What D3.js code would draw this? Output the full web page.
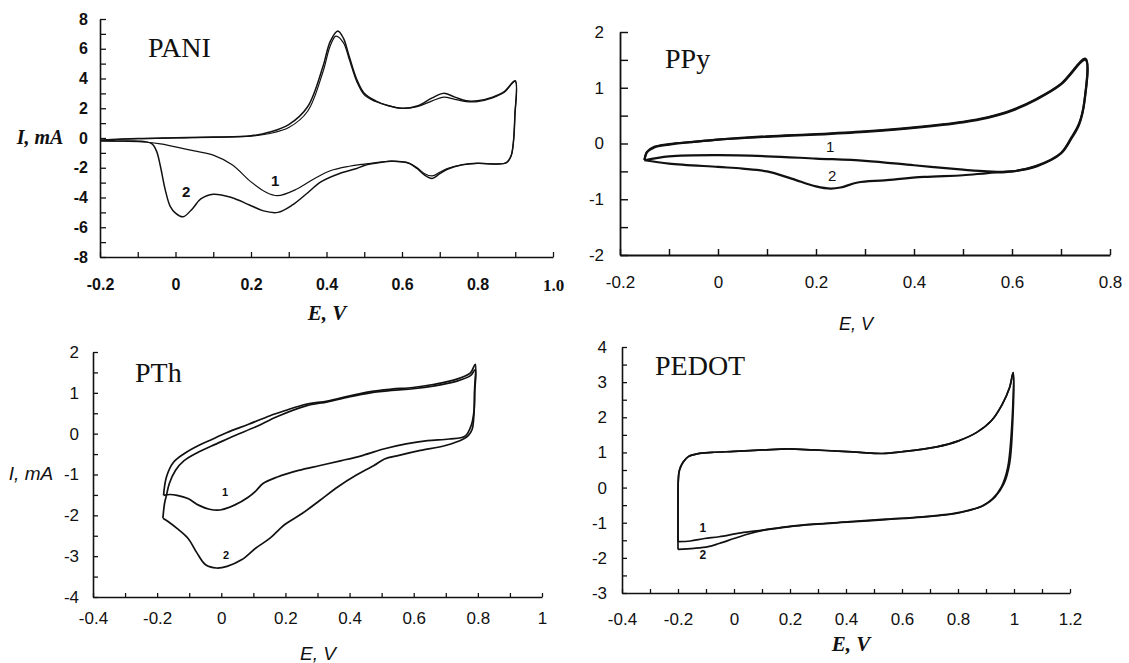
<!DOCTYPE html>
<html>
<head>
<meta charset="utf-8">
<script src="https://cdn.jsdelivr.net/npm/d3@7"></script>
<style>
  body { margin: 0; background: #fff; }
  svg { display: block; }
</style>
</head>
<body>
<svg width="1129" height="663"></svg>
<script>
// ---- data: [E (V), I (mA)], each cycle is a closed loop ----

// PANI
var paniCycle1 = [[-0.2,-0.15],[-0.1,-0.05],[0,0],[0.1,0.04],[0.2,0.12],[0.25,0.3],[0.3,0.7],[0.35,1.8],[0.39,4.4],[0.41,6.2],[0.425,6.85],[0.445,6.4],[0.46,5.3],[0.48,3.8],[0.5,2.9],[0.53,2.45],[0.56,2.2],[0.6,2.0],[0.64,2.1],[0.68,2.5],[0.71,2.75],[0.74,2.6],[0.77,2.45],[0.8,2.45],[0.84,2.7],[0.87,3.05],[0.9,3.8],
  [0.899,1.5],[0.895,-0.3],[0.889,-1.2],[0.877,-1.65],
  [0.85,-1.75],[0.8,-1.7],[0.76,-1.8],[0.72,-2.05],[0.7,-2.3],[0.68,-2.55],[0.66,-2.4],[0.64,-2.0],[0.62,-1.7],[0.6,-1.6],[0.57,-1.55],[0.55,-1.6],[0.5,-1.75],[0.46,-1.9],[0.41,-2.2],[0.37,-2.7],[0.32,-3.45],[0.27,-3.88],[0.24,-3.65],[0.2,-2.95],[0.15,-1.8],[0.1,-1.15],[0.05,-0.87],[0,-0.6],[-0.04,-0.4],[-0.08,-0.27],[-0.14,-0.22],[-0.2,-0.2]];
var paniCycle2 = [[-0.2,-0.15],[-0.1,-0.04],[0,0.01],[0.1,0.06],[0.2,0.15],[0.25,0.4],[0.3,0.9],[0.35,2.1],[0.39,4.75],[0.41,6.5],[0.43,7.2],[0.445,6.7],[0.46,5.5],[0.48,3.95],[0.5,3.0],[0.53,2.5],[0.56,2.2],[0.6,2.0],[0.64,2.15],[0.68,2.7],[0.71,3.0],[0.74,2.75],[0.77,2.5],[0.8,2.5],[0.84,2.75],[0.87,3.1],[0.9,3.85],
  [0.899,1.5],[0.895,-0.3],[0.889,-1.2],[0.877,-1.65],
  [0.85,-1.75],[0.8,-1.7],[0.76,-1.8],[0.72,-2.1],[0.7,-2.4],[0.68,-2.72],[0.66,-2.5],[0.64,-2.05],[0.62,-1.72],[0.6,-1.6],[0.57,-1.57],[0.55,-1.62],[0.5,-1.85],[0.48,-2.05],[0.433,-2.4],[0.385,-2.95],[0.347,-3.75],[0.31,-4.5],[0.271,-5.0],[0.233,-4.9],[0.196,-4.5],[0.148,-4.0],[0.1,-3.78],[0.067,-4.1],[0.045,-4.75],[0.02,-5.3],[0,-5.05],[-0.014,-4.6],[-0.027,-3.5],[-0.04,-1.9],[-0.05,-0.9],[-0.062,-0.4],[-0.08,-0.25],[-0.12,-0.2],[-0.2,-0.18]];

// PPy
var ppyCycle1 = [[-0.15,-0.3],[-0.145,-0.15],[-0.13,-0.06],[-0.1,-0.01],[-0.05,0.03],[0,0.07],[0.1,0.13],[0.2,0.17],[0.3,0.22],[0.4,0.29],[0.5,0.39],[0.55,0.47],[0.6,0.6],[0.65,0.8],[0.7,1.07],[0.75,1.52],
  [0.748,0.78],[0.737,0.36],[0.722,0.12],[0.7,-0.17],[0.65,-0.4],[0.6,-0.5],
  [0.55,-0.5],[0.5,-0.47],[0.4,-0.39],[0.3,-0.31],[0.2,-0.27],[0.1,-0.23],[0,-0.21],[-0.1,-0.23],[-0.15,-0.3]];
var ppyCycle2 = [[-0.15,-0.3],[-0.145,-0.16],[-0.13,-0.07],[-0.1,-0.02],[-0.05,0.03],[0,0.07],[0.1,0.12],[0.2,0.16],[0.3,0.21],[0.4,0.28],[0.5,0.38],[0.55,0.46],[0.6,0.59],[0.65,0.79],[0.7,1.06],[0.75,1.5],
  [0.748,0.76],[0.737,0.34],[0.722,0.1],[0.7,-0.18],[0.65,-0.41],[0.6,-0.5],
  [0.55,-0.53],[0.5,-0.57],[0.42,-0.6],[0.34,-0.66],[0.285,-0.7],[0.25,-0.79],[0.23,-0.81],[0.2,-0.77],[0.15,-0.63],[0.1,-0.5],[0.05,-0.45],[0,-0.42],[-0.1,-0.36],[-0.15,-0.3]];

// PTh
var pthCycle1 = [[-0.18,-1.51],[-0.171,-1.06],[-0.149,-0.7],[-0.116,-0.49],[-0.071,-0.29],[-0.026,-0.13],[0.018,0.03],[0.085,0.23],[0.152,0.44],[0.197,0.56],[0.264,0.72],[0.331,0.8],[0.398,0.92],[0.465,1.03],[0.531,1.09],[0.598,1.13],[0.665,1.21],[0.732,1.33],[0.777,1.49],[0.792,1.7],
  [0.79,1.1],[0.788,0.56],[0.78,0.22],[0.76,-0.06],
  [0.71,-0.13],[0.643,-0.17],[0.576,-0.25],[0.509,-0.37],[0.442,-0.53],[0.375,-0.66],[0.308,-0.78],[0.241,-0.9],[0.175,-1.06],[0.13,-1.22],[0.108,-1.4],[0.085,-1.55],[0.041,-1.75],[-0.004,-1.87],[-0.037,-1.85],[-0.071,-1.75],[-0.104,-1.59],[-0.138,-1.51],[-0.16,-1.49],[-0.18,-1.51]];
var pthCycle2 = [[-0.182,-2.07],[-0.177,-1.71],[-0.171,-1.51],[-0.162,-1.22],[-0.143,-0.9],[-0.116,-0.66],[-0.071,-0.45],[-0.015,-0.25],[0.041,-0.05],[0.108,0.17],[0.175,0.42],[0.264,0.68],[0.331,0.78],[0.398,0.9],[0.465,1.0],[0.531,1.06],[0.598,1.1],[0.665,1.17],[0.732,1.28],[0.777,1.42],[0.792,1.57],
  [0.79,1.0],[0.788,0.5],[0.782,0.1],[0.77,-0.05],
  [0.755,-0.13],[0.699,-0.29],[0.621,-0.41],[0.554,-0.53],[0.509,-0.62],[0.476,-0.78],[0.42,-1.02],[0.364,-1.3],[0.308,-1.63],[0.253,-1.95],[0.197,-2.23],[0.152,-2.56],[0.108,-2.8],[0.063,-3.09],[0.018,-3.25],[-0.015,-3.29],[-0.049,-3.21],[-0.076,-2.92],[-0.104,-2.56],[-0.138,-2.32],[-0.166,-2.15],[-0.182,-2.07]];

// PEDOT
var pedotCycle1 = [[-0.2,-1.54],[-0.2,-0.5],[-0.199,0.2],[-0.195,0.49],[-0.182,0.72],[-0.163,0.88],[-0.131,0.96],[-0.079,1.0],[0,1.03],[0.103,1.07],[0.193,1.1],[0.284,1.07],[0.388,1.03],[0.45,1.0],[0.53,0.97],[0.6,1.02],[0.724,1.16],[0.802,1.33],[0.867,1.57],[0.919,1.9],[0.958,2.37],[0.984,2.84],[0.997,3.27],
  [0.994,1.62],[0.984,0.67],[0.964,0.11],[0.932,-0.27],[0.893,-0.5],[0.841,-0.64],
  [0.776,-0.75],[0.673,-0.83],[0.543,-0.9],[0.414,-0.97],[0.284,-1.04],[0.193,-1.11],[0.103,-1.21],[0.025,-1.29],[-0.053,-1.4],[-0.105,-1.45],[-0.156,-1.52],[-0.2,-1.54]];
var pedotCycle2 = [[-0.2,-1.76],[-0.2,-0.5],[-0.199,0.2],[-0.195,0.49],[-0.182,0.72],[-0.163,0.88],[-0.131,0.96],[-0.079,1.0],[0,1.03],[0.103,1.07],[0.193,1.1],[0.284,1.07],[0.388,1.03],[0.45,1.0],[0.53,0.97],[0.6,1.02],[0.724,1.16],[0.802,1.33],[0.867,1.57],[0.919,1.9],[0.958,2.37],[0.984,2.84],[0.997,3.27],
  [0.99,1.5],[0.977,0.55],[0.955,0.02],[0.922,-0.33],[0.885,-0.53],[0.835,-0.66],
  [0.776,-0.76],[0.673,-0.84],[0.543,-0.91],[0.414,-0.98],[0.284,-1.05],[0.193,-1.12],[0.103,-1.22],[0.051,-1.32],[0,-1.45],[-0.053,-1.59],[-0.092,-1.68],[-0.143,-1.73],[-0.2,-1.76]];

// ---- tick values and tick texts ----
var paniXTicks = [-0.2,-0.1,0,0.1,0.2,0.3,0.4,0.5,0.6,0.7,0.8,0.9,1.0];
var paniXText  = ["-0.2","","0","","0.2","","0.4","","0.6","","0.8","","1.0"];
var paniYTicks = [-8,-7,-6,-5,-4,-3,-2,-1,0,1,2,3,4,5,6,7,8];
var paniYText  = ["-8","","-6","","-4","","-2","","0","","2","","4","","6","","8"];

var ppyXTicks = [-0.2,-0.1,0,0.1,0.2,0.3,0.4,0.5,0.6,0.7,0.8];
var ppyXText  = ["-0.2","","0","","0.2","","0.4","","0.6","","0.8"];
var ppyYTicks = [-2,-1.5,-1,-0.5,0,0.5,1,1.5,2];
var ppyYText  = ["-2","","-1","","0","","1","","2"];

var pthXTicks = [-0.4,-0.3,-0.2,-0.1,0,0.1,0.2,0.3,0.4,0.5,0.6,0.7,0.8,0.9,1];
var pthXText  = ["-0.4","","-0.2","","0","","0.2","","0.4","","0.6","","0.8","","1"];
var pthYTicks = [-4,-3.5,-3,-2.5,-2,-1.5,-1,-0.5,0,0.5,1,1.5,2];
var pthYText  = ["-4","","-3","","-2","","-1","","0","","1","","2"];

var pedotXTicks = [-0.4,-0.3,-0.2,-0.1,0,0.1,0.2,0.3,0.4,0.5,0.6,0.7,0.8,0.9,1,1.1,1.2];
var pedotXText  = ["-0.4","","-0.2","","0","","0.2","","0.4","","0.6","","0.8","","1","","1.2"];
var pedotYTicks = [-3,-2.5,-2,-1.5,-1,-0.5,0,0.5,1,1.5,2,2.5,3,3.5,4];
var pedotYText  = ["-3","","-2","","-1","","0","","1","","2","","3","","4"];

var serif = "'Liberation Serif','Times New Roman',serif";
var sans = "'Liberation Sans',Arial,sans-serif";

var panels = [
  { title: "PANI", cycles: [paniCycle1, paniCycle2],
    xDomain: [-0.2, 1.0], xRange: [100, 553], yDomain: [-8, 8], yRange: [257, 19],
    xTicks: paniXTicks, xText: paniXText, yTicks: paniYTicks, yText: paniYText,
    tickFont: sans, tickWeight: "bold", tickSize: 16, xPad: 22, yPad: 12, xTickLen: 5, yTickLen: 6,
    lineW: [1.2, 1.5], axisW: 1.6, lastXSerif: true,
    titlePos: [148, 57],
    xLab: { text: "E, V", x: 327, y: 315, font: serif, weight: "bold", style: "italic", size: 21 },
    yLab: { text: "I, mA", x: 40, y: 139, font: serif, weight: "bold", style: "italic", size: 20 },
    marks: [{ t: "1", e: 0.264, i: -2.96 }, { t: "2", e: 0.028, i: -3.7 }], markSize: 15, markWeight: "bold" },
  { title: "PPy", cycles: [ppyCycle1, ppyCycle2],
    xDomain: [-0.2, 0.8], xRange: [620, 1110], yDomain: [-2, 2], yRange: [255, 32],
    xTicks: ppyXTicks, xText: ppyXText, yTicks: ppyYTicks, yText: ppyYText,
    tickFont: sans, tickWeight: "normal", tickSize: 17, xPad: 21, yPad: 16, xTickLen: 6, yTickLen: 8,
    lineW: [2.2, 2.2], axisW: 1.8,
    titlePos: [665, 68],
    xLab: { text: "E, V", x: 856, y: 325, font: sans, weight: "normal", style: "italic", size: 18 },
    yLab: null,
    marks: [{ t: "1", e: 0.229, i: -0.08 }, { t: "2", e: 0.233, i: -0.6 }], markSize: 15, markWeight: "normal" },
  { title: "PTh", cycles: [pthCycle1, pthCycle2],
    xDomain: [-0.4, 1], xRange: [93, 542], yDomain: [-4, 2], yRange: [597, 352],
    xTicks: pthXTicks, xText: pthXText, yTicks: pthYTicks, yText: pthYText,
    tickFont: sans, tickWeight: "normal", tickSize: 17, xPad: 15, yPad: 14, xTickLen: 4, yTickLen: 5,
    lineW: [1.7, 1.7], axisW: 1.6,
    titlePos: [135, 382],
    xLab: { text: "E, V", x: 318, y: 655, font: sans, weight: "normal", style: "italic", size: 19 },
    yLab: { text: "I, mA", x: 31, y: 475, font: sans, weight: "normal", style: "italic", size: 19 },
    marks: [{ t: "1", e: 0.012, i: -1.46 }, { t: "2", e: 0.015, i: -3.0 }], markSize: 11, markWeight: "bold" },
  { title: "PEDOT", cycles: [pedotCycle1, pedotCycle2],
    xDomain: [-0.4, 1.2], xRange: [622, 1070], yDomain: [-3, 4], yRange: [593, 347],
    xTicks: pedotXTicks, xText: pedotXText, yTicks: pedotYTicks, yText: pedotYText,
    tickFont: sans, tickWeight: "normal", tickSize: 17, xPad: 20, yPad: 15, xTickLen: 4, yTickLen: 5,
    lineW: [1.7, 1.7], axisW: 1.6,
    titlePos: [655, 375],
    xLab: { text: "E, V", x: 851, y: 646, font: serif, weight: "bold", style: "italic", size: 21 },
    yLab: null,
    marks: [{ t: "1", e: -0.111, i: -1.18 }, { t: "2", e: -0.111, i: -1.95 }], markSize: 12, markWeight: "bold" }
];

var svg = d3.select("svg");

panels.forEach(function (p) {
  var x = d3.scaleLinear().domain(p.xDomain).range(p.xRange);
  var y = d3.scaleLinear().domain(p.yDomain).range(p.yRange);
  var g = svg.append("g");

  // curves
  var line = d3.line()
    .x(function (d) { return x(d[0]); })
    .y(function (d) { return y(d[1]); })
    .curve(d3.curveCatmullRom.alpha(0.5));

  g.selectAll("path.cv")
    .data(p.cycles)
    .enter()
    .append("path")
    .attr("class", "cv")
    .attr("d", line)
    .attr("fill", "none")
    .attr("stroke", "#111")
    .attr("stroke-width", function (d, i) { return p.lineW[i]; })
    .attr("stroke-linejoin", "round");

  // axes
  var xAxis = d3.axisBottom(x)
    .tickValues(p.xTicks)
    .tickFormat(function (d, i) { return p.xText[i]; })
    .tickSizeInner(-p.xTickLen).tickSizeOuter(0)
    .tickPadding(p.xPad);
  var yAxis = d3.axisLeft(y)
    .tickValues(p.yTicks)
    .tickFormat(function (d, i) { return p.yText[i]; })
    .tickSizeInner(-p.yTickLen).tickSizeOuter(0)
    .tickPadding(p.yPad);

  var gx = g.append("g")
    .attr("transform", "translate(0," + y(p.yDomain[0]) + ")")
    .call(xAxis);
  var gy = g.append("g")
    .attr("transform", "translate(" + x(p.xDomain[0]) + ",0)")
    .call(yAxis);

  [gx, gy].forEach(function (ax) {
    ax.attr("font-family", p.tickFont).attr("font-size", p.tickSize).attr("font-weight", p.tickWeight);
    ax.select(".domain").attr("stroke", "#111").attr("stroke-width", p.axisW);
    ax.selectAll(".tick line").attr("stroke", "#111").attr("stroke-width", p.axisW * 0.8);
    ax.selectAll(".tick text").attr("fill", "#111");
  });
  gx.selectAll(".tick text").attr("dy", "0.71em");

  if (p.lastXSerif) {
    gx.selectAll(".tick text").filter(function (d, i) { return i === p.xTicks.length - 1; })
      .attr("font-family", serif).attr("font-size", p.tickSize + 1);
  }

  // title
  g.append("text")
    .attr("x", p.titlePos[0]).attr("y", p.titlePos[1])
    .attr("font-family", serif).attr("font-size", 28)
    .attr("fill", "#111")
    .text(p.title);

  // axis labels
  [p.xLab, p.yLab].forEach(function (l) {
    if (!l) return;
    g.append("text")
      .attr("x", l.x).attr("y", l.y)
      .attr("text-anchor", "middle")
      .attr("dominant-baseline", "middle")
      .attr("font-family", l.font).attr("font-weight", l.weight)
      .attr("font-style", l.style).attr("font-size", l.size)
      .attr("fill", "#111")
      .text(l.text);
  });

  // cycle numbers
  g.selectAll("text.mark")
    .data(p.marks)
    .enter()
    .append("text")
    .attr("class", "mark")
    .attr("x", function (d) { return x(d.e); })
    .attr("y", function (d) { return y(d.i); })
    .attr("text-anchor", "middle")
    .attr("dominant-baseline", "middle")
    .attr("font-family", sans)
    .attr("font-size", p.markSize)
    .attr("font-weight", p.markWeight)
    .attr("fill", "#111")
    .text(function (d) { return d.t; });
});
</script>
</body>
</html>
